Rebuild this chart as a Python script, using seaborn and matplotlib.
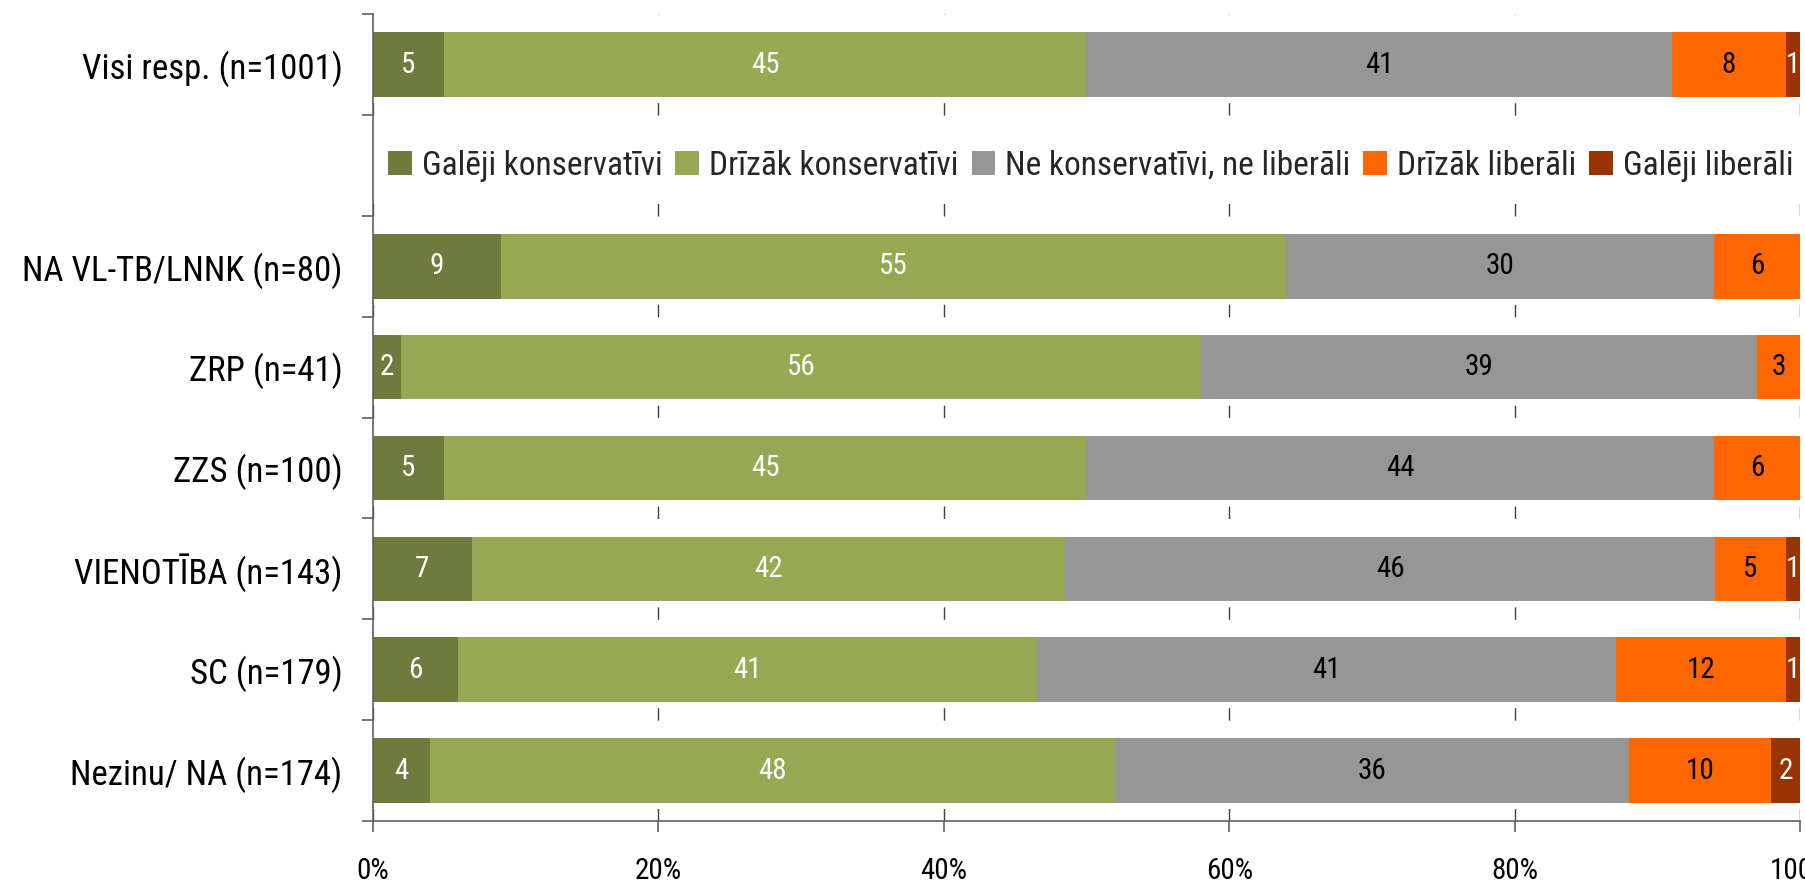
import numpy as np
import matplotlib
matplotlib.use('Agg')
import matplotlib.pyplot as plt
from matplotlib.patches import Patch
from matplotlib.ticker import FixedLocator
import seaborn as sns

# rows top to bottom, second row left empty for the legend
groups = ['Visi resp. (n=1001)', '', 'NA VL-TB/LNNK (n=80)', 'ZRP (n=41)',
          'ZZS (n=100)', 'VIENOTĪBA (n=143)', 'SC (n=179)', 'Nezinu/ NA (n=174)']
series = ['Galēji konservatīvi', 'Drīzāk konservatīvi',
          'Ne konservatīvi, ne liberāli', 'Drīzāk liberāli', 'Galēji liberāli']
galeji_kons = [5, np.nan, 9, 2, 5, 7, 6, 4]
drizak_kons = [45, np.nan, 55, 56, 45, 42, 41, 48]
ne_ne = [41, np.nan, 30, 39, 44, 46, 41, 36]
drizak_lib = [8, np.nan, 6, 3, 6, 5, 12, 10]
galeji_lib = [1, np.nan, 0, 0, 0, 1, 1, 2]
x_ticks = [0, 20, 40, 60, 80, 100]

colors = ['#6F7A3D', '#96A852', '#969696', '#FF6600', '#993300']
label_colors = ['white', 'white', 'black', 'black', 'white']

sns.set_theme(style='white')
plt.rcParams['font.family'] = ['Roboto Condensed', 'DejaVu Sans']

vals = np.array([galeji_kons, drizak_kons, ne_ne, drizak_lib, galeji_lib]).T
pct = vals / vals.sum(axis=1, keepdims=True) * 100
cum = np.cumsum(pct, axis=1)

fig = plt.figure(figsize=(18.06, 8.9), dpi=100)
ax = fig.add_axes([0.2065, 0.0775, 0.7902, 0.9065])

# stacked: draw cumulative totals, widest first
for i in reversed(range(len(series))):
    sns.barplot(x=cum[:, i], y=groups, order=groups, orient='h', color=colors[i],
                saturation=1, width=0.64, linewidth=0, errorbar=None, ax=ax)

for r in range(len(groups)):
    for i in range(len(series)):
        v = vals[r, i]
        if np.isnan(v) or v <= 0:
            continue
        ax.text(cum[r, i] - pct[r, i] / 2, r, '%d' % v, ha='center', va='center',
                color=label_colors[i], fontsize=21)

ax.set_xlim(0, 100)
ax.set_ylim(len(groups) - 0.5, -0.5)
ax.set_xlabel('')
ax.set_ylabel('')
ax.xaxis.set_major_locator(FixedLocator(x_ticks))
ax.set_xticklabels(['%d%%' % t for t in x_ticks])
ax.yaxis.set_minor_locator(FixedLocator(np.arange(-0.5, len(groups), 1.0)))

ax.grid(axis='x', color='#404040', lw=1.0, linestyle=(0, (9, 63.6)))
ax.set_axisbelow(True)

for s in ['top', 'right']:
    ax.spines[s].set_visible(False)
for s in ['left', 'bottom']:
    ax.spines[s].set_color('#606060')
    ax.spines[s].set_linewidth(1.2)

ax.tick_params(axis='y', which='major', length=0, pad=22, labelsize=25, labelcolor='black')
ax.tick_params(axis='y', which='minor', length=8, width=1.2, color='#606060', direction='out', left=True)
ax.tick_params(axis='x', which='major', length=8, width=1.2, color='#606060', direction='out',
               bottom=True, pad=18, labelsize=21, labelcolor='black')

handles = [Patch(facecolor=c, edgecolor='none') for c in colors]
leg = ax.legend(handles, series, ncol=5, loc='center left',
                bbox_to_anchor=(0.006, 1 - 1.5 / len(groups)), fontsize=24,
                handlelength=0.7, handleheight=0.7, handletextpad=0.3,
                columnspacing=0.4, borderaxespad=0, borderpad=0.2,
                frameon=True, fancybox=False)
leg.get_frame().set_facecolor('white')
leg.get_frame().set_edgecolor('none')

fig.savefig('out.png', dpi=100)
